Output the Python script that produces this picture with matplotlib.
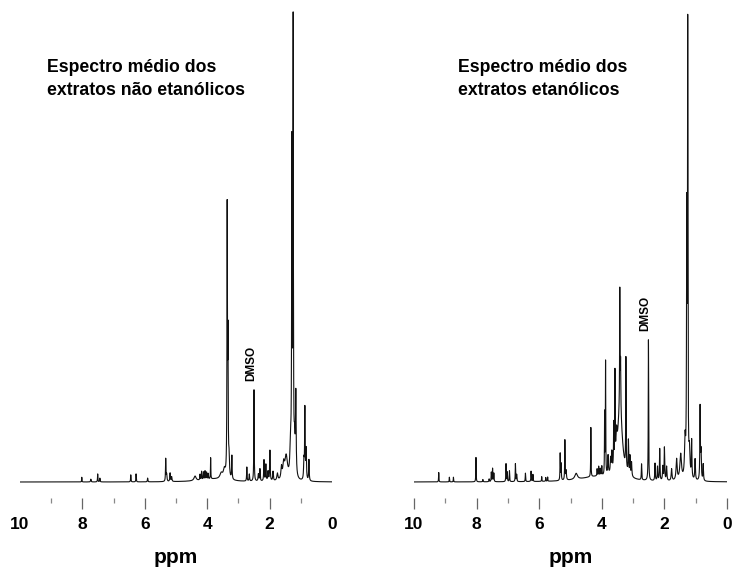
import numpy as np
import matplotlib
matplotlib.use("Agg")
import matplotlib.pyplot as plt
from matplotlib.ticker import MultipleLocator

plt.rcParams['font.family'] = ['Liberation Sans', 'DejaVu Sans']

# Peak tables (chemical shift in ppm, peak height in % of the tallest signal, half width in ppm)
left_ppm = [1.245, 1.285, 1.16, 1.20, 1.33, 0.87, 0.83, 0.74, 0.90,
            1.47, 1.55, 1.62, 1.75, 1.89, 1.99, 2.05, 2.12, 2.18, 2.31, 2.36,
            2.50, 2.65, 2.73, 3.21, 3.30, 3.36, 3.335, 3.45, 3.55, 3.89,
            3.97, 4.02, 4.07, 4.12, 4.18, 4.23, 4.39, 5.14, 5.19, 5.33, 5.30,
            5.91, 6.28, 6.45, 7.44, 7.51, 7.73, 8.02, 3.8]
left_height = [94, 69, 17, 7, 7, 15, 6.5, 4.5, 4,
               5, 3, 2.5, 1.5, 2, 6.5, 2, 3.5, 4.5, 2.6, 1.5,
               19.5, 1.5, 3, 5, 4, 56, 28, 2, 1.2, 4.5,
               1.2, 1.5, 1.8, 1.6, 1.8, 1.2, 1.0, 1.0, 1.8, 4.8, 1.5,
               0.8, 1.7, 1.5, 0.8, 1.7, 0.6, 1.0, 0.6]
left_width = [0.008, 0.01, 0.012, 0.02, 0.02, 0.009, 0.012, 0.01, 0.012,
              0.05, 0.03, 0.02, 0.02, 0.012, 0.01, 0.012, 0.01, 0.01, 0.01, 0.012,
              0.007, 0.01, 0.008, 0.009, 0.015, 0.008, 0.009, 0.04, 0.05, 0.006,
              0.008, 0.008, 0.008, 0.008, 0.008, 0.008, 0.04, 0.012, 0.01, 0.008, 0.012,
              0.008, 0.007, 0.007, 0.008, 0.007, 0.01, 0.006, 0.5]

right_ppm = [1.255, 1.285, 1.34, 1.13, 1.02, 1.20, 0.86, 0.83, 0.76,
             1.48, 1.61, 1.77, 1.93, 2.00, 2.05, 2.15, 2.22, 2.30,
             2.51, 2.73, 3.05, 3.10, 3.15, 3.23,
             3.42, 3.425, 3.40, 3.58, 3.62, 3.53,
             3.88, 3.91, 3.80, 3.72, 3.68,
             4.00, 4.05, 4.10, 4.15, 4.35, 4.2, 4.82,
             5.18, 5.14, 5.33, 5.30, 5.73, 5.79, 5.92,
             6.20, 6.26, 6.44, 6.72, 6.76, 6.95, 7.06, 7.02,
             7.45, 7.49, 7.53, 7.60, 7.80, 8.02, 8.74, 8.87, 9.21]
right_height = [93, 54, 8, 8, 4.5, 5.5, 15.5, 6, 3.5,
                5.5, 4.5, 2.5, 3, 7, 3, 6.8, 3, 3.7,
                30, 3.4, 3, 4, 7, 23.5,
                15, 25, 10, 19, 9, 5,
                24, 13, 4, 3, 4,
                2, 1.5, 2, 1.5, 10.5, 1.0, 1.3,
                8.5, 2, 5.7, 3.5, 0.9, 0.8, 1.0,
                1.5, 2.2, 1.8, 1.5, 3.8, 2.3, 3.8, 2,
                1.8, 2.8, 2.0, 0.6, 0.5, 5.2, 1.0, 1.0, 2.0]
right_width = [0.008, 0.01, 0.02, 0.01, 0.012, 0.02, 0.009, 0.012, 0.01,
               0.03, 0.02, 0.015, 0.012, 0.01, 0.012, 0.009, 0.01, 0.009,
               0.007, 0.008, 0.012, 0.01, 0.009, 0.007,
               0.09, 0.007, 0.008, 0.007, 0.007, 0.02,
               0.006, 0.006, 0.012, 0.012, 0.012,
               0.008, 0.008, 0.008, 0.008, 0.006, 0.6, 0.05,
               0.007, 0.012, 0.007, 0.008, 0.006, 0.006, 0.006,
               0.007, 0.007, 0.007, 0.008, 0.007, 0.007, 0.007, 0.007,
               0.008, 0.007, 0.007, 0.008, 0.008, 0.006, 0.006, 0.006, 0.006]

titles = ["Espectro médio dos\nextratos não etanólicos",
          "Espectro médio dos\nextratos etanólicos"]
solvent_label = "DMSO"
solvent_ppm = [2.50, 2.51]
tick_values = [10, 8, 6, 4, 2, 0]
tick_labels = ['10', '8', '6', '4', '2', '0']


def spectrum(ppm_axis, centers, heights, widths):
    """Sum of Lorentzian lines."""
    y = np.zeros_like(ppm_axis)
    for c, h, w in zip(centers, heights, widths):
        y += h * w**2 / ((ppm_axis - c) ** 2 + w**2)
    return y


ppm_axis = np.linspace(10, 0, 40001)

fig = plt.figure(figsize=(7.32, 5.70), dpi=100)
W, H = 732, 570
panels = [
    (20, 332, left_ppm, left_height, left_width, titles[0], 47, solvent_ppm[0], False),
    (414, 727, right_ppm, right_height, right_width, titles[1], 458, solvent_ppm[1], True),
]

for x0, x1, c, h, w, title, tx, sppm, edge_ticks in panels:
    ax = fig.add_axes([x0 / W, (H - 498) / H, (x1 - x0) / W, 498 / H])
    y = spectrum(ppm_axis, c, h, w)
    ax.plot(ppm_axis, y, color='#111111', lw=0.8)
    ax.set_xlim(10, 0)
    ax.set_ylim(-3.41, 102.77)
    for s in ax.spines.values():
        s.set_visible(False)
    ax.set_yticks([])
    ax.xaxis.set_minor_locator(MultipleLocator(1))
    ax.set_xticks(tick_values)
    ax.set_xticklabels(tick_labels, fontweight='bold', fontsize=12.5)
    ax.tick_params(axis='x', which='major', length=8, width=0.9, color='#666666', pad=5.5)
    ax.tick_params(axis='x', which='minor', length=3.5, width=0.9, color='#888888')
    if not edge_ticks:
        for t in ax.xaxis.get_major_ticks():
            if t.get_loc() in (10, 0):
                t.tick1line.set_visible(False)
    ax.set_xlabel("ppm", fontsize=15, fontweight='bold', labelpad=12)
    # solvent signal annotation
    sh = np.interp(-sppm, -ppm_axis, y)
    ax.annotate(solvent_label, xy=(sppm, sh), xytext=(-2, 6), textcoords='offset points',
                rotation=90, ha='center', va='bottom', fontsize=8.5, fontweight='bold')
    fig.text(tx / W, 1 - 79 / H, title, ha='left', va='center', fontsize=12.7,
             fontweight='bold', linespacing=1.5)

fig.savefig("out.png", dpi=100)
